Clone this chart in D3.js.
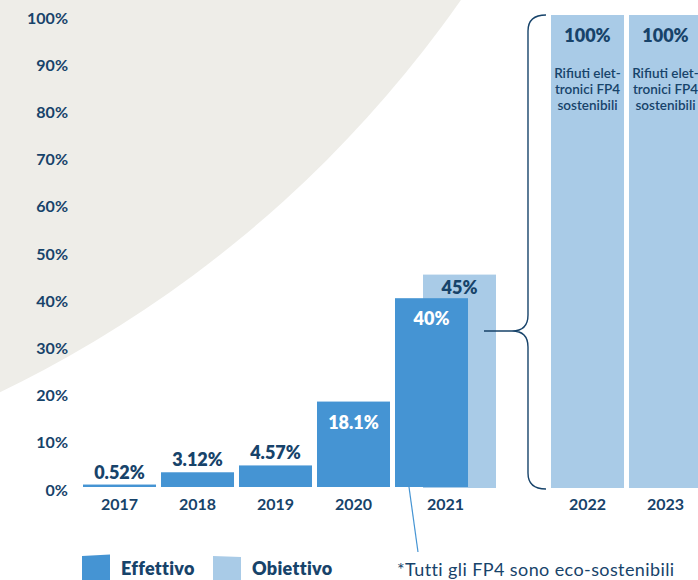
<!DOCTYPE html>
<html>
<head>
<meta charset="utf-8">
<script src="https://cdn.jsdelivr.net/npm/d3@7"></script>
<style>
  html, body { margin: 0; padding: 0; background: #fff; }
  svg { display: block; font-family: "Lato", "Open Sans", sans-serif; }
</style>
</head>
<body>
<svg id="chart" width="698" height="580"></svg>
<script>
// ---- data ----
const slots = ["2017", "2018", "2019", "2020", "2021", "gap", "2022", "2023"];
const years = ["2017", "2018", "2019", "2020", "2021", "2022", "2023"];
const actualYears = ["2017", "2018", "2019", "2020", "2021"];
const actualValues = [0.52, 3.12, 4.57, 18.1, 40];
const actualLabels = ["0.52%", "3.12%", "4.57%", "18.1%", "40%"];
const targetYears = ["2021", "2022", "2023"];
const targetValues = [45, 100, 100];
const targetLabels = ["45%", "100%", "100%"];
const targetNote = ["Rifiuti elet-", "tronici FP4", "sostenibili"];
const yTicks = [0, 10, 20, 30, 40, 50, 60, 70, 80, 90, 100];
const legendItems = ["Effettivo", "Obiettivo"];
const footnote = "*Tutti gli FP4 sono eco-sostenibili";

// ---- styles ----
const NAVY = "#17436a";
const BLUE = "#4594d3";
const LIGHT = "#a9cbe7";
const BG = "#eeede8";

const svg = d3.select("#chart");

// background arc
svg.append("circle")
  .attr("cx", -520).attr("cy", -686).attr("r", 1197)
  .attr("fill", BG);

const x = d3.scaleBand().domain(slots).range([83, 702]).paddingInner(0.064).paddingOuter(0);
const y = d3.scaleLinear().domain([0, 100]).range([487, 15]);
const bw = x.bandwidth();
const targetOffset = 28;

// y axis
const yAxis = svg.append("g")
  .attr("transform", "translate(68,3)")
  .call(d3.axisLeft(y).tickValues(yTicks).tickFormat(d => d + "%").tickSize(0).tickPadding(0));
yAxis.select(".domain").remove();
yAxis.selectAll("text")
  .attr("fill", NAVY)
  .style("font-family", "Lato, sans-serif")
  .style("font-size", "16px")
  .style("font-weight", "700");

// target bars
const tx = d => x(d) + (d === "2021" ? targetOffset : 0);
svg.append("g").selectAll("rect")
  .data(targetYears.map((d, i) => ({ year: d, v: targetValues[i], label: targetLabels[i] })))
  .join("rect")
  .attr("x", d => tx(d.year))
  .attr("y", d => y(d.v))
  .attr("width", bw)
  .attr("height", d => y(0) - y(d.v) + 1)
  .attr("fill", LIGHT);

// actual bars
const actualData = actualYears.map((d, i) => ({ year: d, v: actualValues[i], label: actualLabels[i] }));
svg.append("g").selectAll("rect")
  .data(actualData)
  .join("rect")
  .attr("x", d => x(d.year))
  .attr("y", d => y(d.v))
  .attr("width", bw)
  .attr("height", d => y(0) - y(d.v))
  .attr("fill", BLUE);

// actual labels
svg.append("g").selectAll("text")
  .data(actualData)
  .join("text")
  .attr("x", d => x(d.year) + bw / 2)
  .attr("y", d => d.v > 10 ? y(d.v) + 27 : y(d.v) - 6)
  .attr("text-anchor", "middle")
  .attr("fill", d => d.v > 10 ? "#ffffff" : NAVY)
  .style("font-size", "18px")
  .style("font-weight", "800")
  .text(d => d.label);

// target labels
svg.append("g").selectAll("text")
  .data(targetYears.map((d, i) => ({ year: d, v: targetValues[i], label: targetLabels[i] })))
  .join("text")
  .attr("x", d => tx(d.year) + bw / 2)
  .attr("y", d => y(d.v) + (d.year === "2021" ? 19 : 27))
  .attr("text-anchor", "middle")
  .attr("fill", NAVY)
  .style("font-size", "18px")
  .style("font-weight", "800")
  .text(d => d.label);

// notes in 2022 / 2023 bars
["2022", "2023"].forEach(yr => {
  const t = svg.append("text")
    .attr("text-anchor", "middle")
    .attr("fill", NAVY)
    .style("font-size", "13.5px")
    .style("font-weight", "600");
  targetNote.forEach((line, i) => {
    t.append("tspan")
      .attr("x", x(yr) + bw / 2)
      .attr("y", y(100) + 63 + i * 16)
      .text(line);
  });
});

// year labels
svg.append("g").selectAll("text")
  .data(years)
  .join("text")
  .attr("x", d => x(d) + bw / 2 + (d === "2021" ? targetOffset / 2 : 0))
  .attr("y", y(0) + 23)
  .attr("text-anchor", "middle")
  .attr("fill", NAVY)
  .style("font-size", "16px")
  .style("font-weight", "700")
  .text(d => d);

// brace
const bx = x("2022") - 23;            // vertical line
const tipX = tx("2021") + bw - 12;     // brace tip
const midY = 331;
const topY = y(100), botY = y(0) + 2;
const r = 16;
const bracePath = d3.path();
bracePath.moveTo(x("2022") - 5, topY);
bracePath.quadraticCurveTo(bx, topY, bx, topY + r);
bracePath.lineTo(bx, midY - r);
bracePath.quadraticCurveTo(bx, midY, bx - r, midY);
bracePath.lineTo(tipX, midY);
bracePath.moveTo(bx - r, midY);
bracePath.quadraticCurveTo(bx, midY, bx, midY + r);
bracePath.lineTo(bx, botY - r);
bracePath.quadraticCurveTo(bx, botY, x("2022") - 5, botY);
svg.append("path")
  .attr("d", bracePath.toString())
  .attr("fill", "none")
  .attr("stroke", NAVY)
  .attr("stroke-width", 1.4);

// connector to footnote
svg.append("line")
  .attr("x1", x("2021") + 14).attr("y1", y(0))
  .attr("x2", x("2021") + 23).attr("y2", 552)
  .attr("stroke", BLUE)
  .attr("stroke-width", 1.2);

// legend
const legendX = [82, 213];
const legendColors = [BLUE, LIGHT];
legendItems.forEach((name, i) => {
  const lx = legendX[i];
  svg.append("path")
    .attr("d", `M${lx},556 L${lx + 28},${i === 0 ? 554.5 : 557} L${lx + 28},581 L${lx},581 Z`)
    .attr("fill", legendColors[i]);
  svg.append("text")
    .attr("x", lx + 39)
    .attr("y", 575)
    .attr("fill", NAVY)
    .style("font-size", "18px")
    .style("font-weight", "800")
    .style("letter-spacing", "0.3px")
    .text(name);
});

// footnote
svg.append("text")
  .attr("x", 397)
  .attr("y", 576)
  .attr("fill", NAVY)
  .style("font-size", "18px")
  .style("font-weight", "400")
  .style("letter-spacing", "0.4px")
  .text(footnote);
</script>
</body>
</html>
